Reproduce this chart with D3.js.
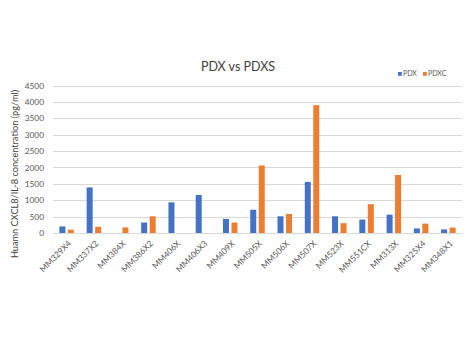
<!DOCTYPE html>
<html><head><meta charset="utf-8">
<script src="https://cdn.jsdelivr.net/npm/d3@7"></script>
<style>body{margin:0;background:#fff;}text{font-family:Lato,"Open Sans",sans-serif;}</style>
</head><body><svg id="c" width="474" height="355"></svg>
<script>
const categories = ["MM329X4","MM337X2","MM384X","MM386X2","MM406X","MM406X3","MM409X","MM505X","MM506X","MM507X","MM523X","MM551CX","MM313X","MM325X4","MM348X1"];
const pdx  = [200,1390,0,320,935,1160,430,710,510,1560,510,410,560,140,110];
const pdxc = [100,190,170,510,0,0,320,2060,580,3900,300,880,1770,285,165];
const seriesNames = ["PDX","PDXC"];
const colors = ["#4472C4","#ED7D31"];
const yTicks = [0,500,1000,1500,2000,2500,3000,3500,4000,4500];

(function(){
const svg = d3.select("#c");
const pl = 53, pr = 462, pt = 85.5, pb = 233;
const x = d3.scaleBand().domain(categories).range([pl, pr]);
const y = d3.scaleLinear().domain([0,4500]).range([pb, pt]);

svg.append("g").selectAll("line").data(yTicks).join("line")
  .attr("x1", pl).attr("x2", pr)
  .attr("y1", d => Math.round(y(d))+0.5).attr("y2", d => Math.round(y(d))+0.5)
  .attr("stroke", "#D9D9D9").attr("stroke-width", 1);

const yAxis = d3.axisLeft(y).tickValues(yTicks).tickFormat(d3.format("d")).tickSize(0).tickPadding(9);
svg.append("g").attr("transform", `translate(${pl},0)`).call(yAxis)
  .call(g => g.select(".domain").remove())
  .call(g => g.selectAll("text").attr("fill","#595959").style("font-size","8.3px").style("font-family","Lato"));

const bw = 6, gap = 2.5;
const data = [pdx, pdxc];
data.forEach((vals, si) => {
  svg.append("g").selectAll("rect").data(vals).join("rect")
    .attr("x", (d,i) => x(categories[i]) + x.bandwidth()/2 + (si===0 ? -bw - gap/2 : gap/2))
    .attr("width", bw)
    .attr("y", d => y(d))
    .attr("height", d => pb - y(d))
    .attr("fill", colors[si]);
});

const xAxis = d3.axisBottom(x).tickSize(0).tickPadding(0);
svg.append("g").attr("transform", `translate(0,${pb})`).call(xAxis)
  .call(g => g.select(".domain").attr("stroke","#D9D9D9"))
  .call(g => g.selectAll("text")
    .attr("fill","#595959").style("font-size","8.4px").style("font-family","Lato")
    .attr("text-anchor","end").attr("dy","0.35em")
    .attr("transform","translate(3,9) rotate(-45)"));

svg.append("text").attr("x", 238).attr("y", 71).attr("text-anchor","middle")
  .attr("fill","#404040").style("font-size","12.5px").text("PDX vs PDXS");

svg.append("text").attr("transform","translate(18,174) rotate(-90)").attr("text-anchor","middle")
  .attr("fill","#404040").style("font-size","9.2px").text("Huamn CXCL8/IL-8 concentration (pg/ml)");

const lg = svg.append("g");
const lx = [398, 423];
seriesNames.forEach((n,i) => {
  lg.append("rect").attr("x", lx[i]).attr("y", 72).attr("width",3.8).attr("height",3.8).attr("fill",colors[i]);
  lg.append("text").attr("x", lx[i]+5).attr("y", 76.2).attr("fill","#595959").style("font-size","7px").text(n);
});
})();
</script></body></html>
